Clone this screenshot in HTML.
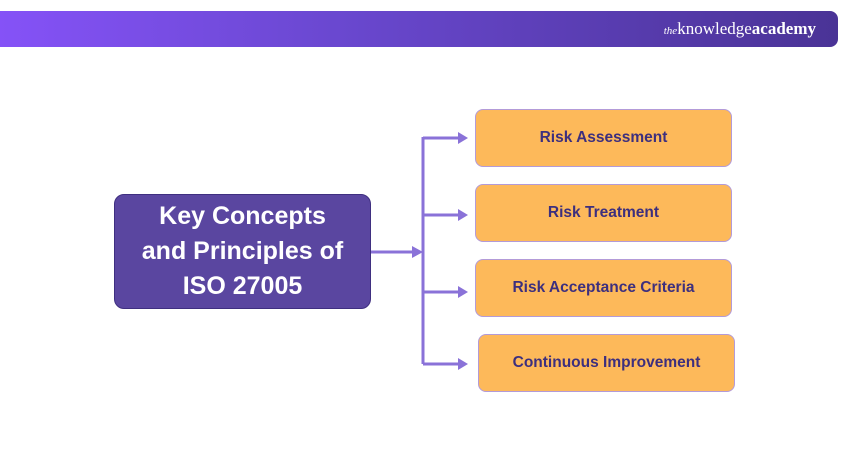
<!DOCTYPE html>
<html><head><style>
body{margin:0;width:850px;height:450px;background:#fff;position:relative;font-family:"Liberation Sans",sans-serif;overflow:hidden}
.banner{position:absolute;left:0;top:11px;width:838px;height:36px;border-radius:0 8px 8px 0;background:linear-gradient(90deg,#8552f7,#6a48d0 40%,#4a3396)}
.logo{position:absolute;right:22px;top:8px;color:#fff;font-family:"Liberation Serif",serif;font-size:17px}
.main{position:absolute;left:114px;top:194px;width:257px;height:115px;background:#5a46a0;border:1px solid #3f2f80;border-radius:10px;box-sizing:border-box;color:#fff;font-weight:bold;font-size:25px;line-height:35px;text-align:center;display:flex;align-items:center;justify-content:center}
.b{position:absolute;width:257px;height:58px;background:#fdb95a;border:1px solid #b39bd8;border-radius:8px;box-sizing:border-box;color:#3d2f7e;font-weight:bold;font-size:15.5px;display:flex;align-items:center;justify-content:center}
</style></head><body>
<div class="banner"><div class="logo"><i style="font-size:11px">the</i>knowledge<b>academy</b></div></div>
<div class="main">Key Concepts<br>and Principles of<br>ISO 27005</div>
<svg width="850" height="450" style="position:absolute;left:0;top:0">
<g stroke="#8a72d8" stroke-width="3" fill="none">
<line x1="371" y1="252" x2="414" y2="252"/>
<line x1="423" y1="137" x2="423" y2="364"/>
<line x1="423" y1="138" x2="460" y2="138"/>
<line x1="423" y1="215" x2="460" y2="215"/>
<line x1="423" y1="292" x2="460" y2="292"/>
<line x1="423" y1="364" x2="460" y2="364"/>
</g>
<g fill="#8a72d8">
<polygon points="412,246 423,252 412,258"/>
<polygon points="458,132 468,138 458,144"/>
<polygon points="458,209 468,215 458,221"/>
<polygon points="458,286 468,292 458,298"/>
<polygon points="458,358 468,364 458,370"/>
</g></svg>
<div class="b" style="left:475px;top:109px">Risk Assessment</div>
<div class="b" style="left:475px;top:184px">Risk Treatment</div>
<div class="b" style="left:475px;top:259px">Risk Acceptance Criteria</div>
<div class="b" style="left:478px;top:334px">Continuous Improvement</div>
</body></html>
